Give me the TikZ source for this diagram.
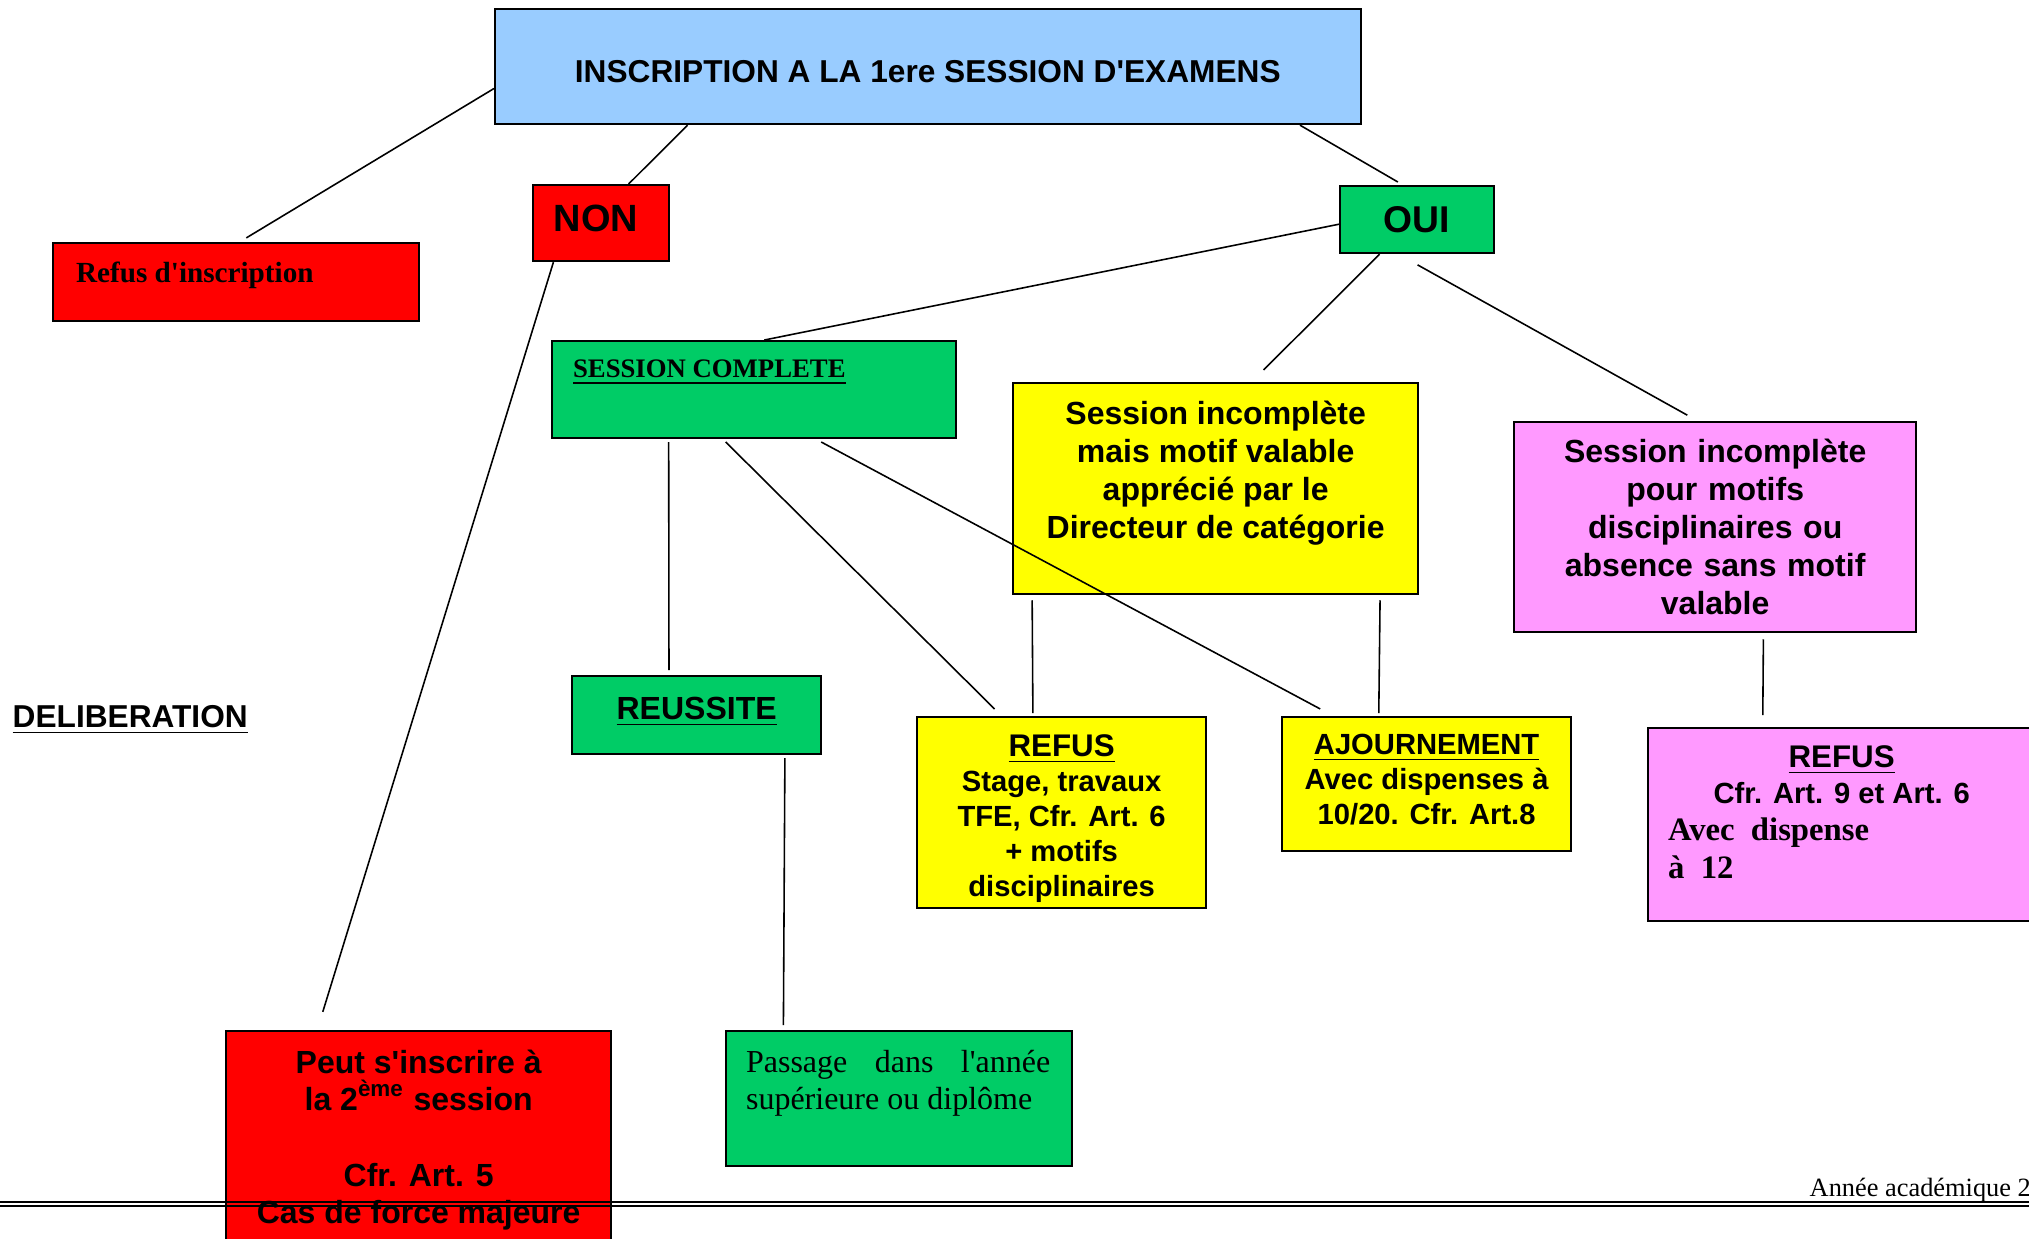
\documentclass[tikz,border=0pt]{standalone}
\usepackage{fontspec}
\newfontfamily\sansf{Liberation Sans}
\newfontfamily\seriff{Liberation Serif}
\usetikzlibrary{calc}
\definecolor{cblue}{HTML}{99CCFF}
\definecolor{cred}{HTML}{FF0000}
\definecolor{cgreen}{HTML}{00CC66}
\definecolor{cyellow}{HTML}{FFFF00}
\definecolor{cpink}{HTML}{FF99FF}
\newcommand{\sbf}[2]{\sansf\bfseries\fontsize{#1}{#2}\selectfont}
\newcommand{\rbf}[2]{\seriff\bfseries\fontsize{#1}{#2}\selectfont}
% text set at the top of a box of fixed size
\newcommand{\boxtop}[3]{\parbox[c][#1][t]{#2}{#3}}

\begin{document}
\begin{tikzpicture}[x=0.01cm, y=-0.01cm,
% common options for the boxes:
box/.style = {draw, line width=0.6pt, inner sep=0, anchor=north west},
bluebox/.style = {box, fill=cblue},
redbox/.style = {box, fill=cred},
greenbox/.style = {box, fill=cgreen},
yellowbox/.style = {box, fill=cyellow},
pinkbox/.style = {box, fill=cpink},
% common options for the connectors:
link/.style = {line width=0.45pt}]
\useasboundingbox (0,0) rectangle (2029,1238);
\clip (0,0) rectangle (2029,1238);
% first level
\node[bluebox, minimum width=8.65cm, text height=0.73cm, text depth=0.42cm, font=\sbf{9pt}{11pt}] (insc) at (494,8) {INSCRIPTION A LA 1ere SESSION D'EXAMENS};
\node[redbox, minimum width=1.36cm, text height=0.46cm, text depth=0.30cm, font=\sbf{10.8pt}{12pt}] (non) at (532,184) {NON\hspace{0.1cm}\mbox{}};
\node[greenbox, minimum width=1.54cm, minimum height=0.67cm, font=\sbf{10.6pt}{12pt}] (oui) at (1339,185) {OUI};
\node[redbox, font=\rbf{8.3pt}{10pt}] (refins) at (52,242)
  {\boxtop{0.78cm}{3.66cm}{\vspace{0.19cm}\hspace*{0.23cm}Refus d'inscription}};
% second level
\node[greenbox, font=\rbf{7.6pt}{9pt}] (sc) at (551,340)
  {\boxtop{0.97cm}{4.04cm}{\vspace{0.19cm}\hspace*{0.21cm}\underline{SESSION COMPLETE}}};
\node[yellowbox, font=\sbf{9.1pt}{0.38cm}] (inc1) at (1012,382)
  {\boxtop{2.11cm}{4.05cm}{\vspace{0.175cm}\centering Session incomplète\\ mais motif valable\\ apprécié par le\\ Directeur de catégorie}};
\node[pinkbox, text width=4.02cm, align=center, minimum height=2.10cm, font=\sbf{9.1pt}{0.38cm}] (inc2) at (1513,421)
  {Session incomplète\\ pour motifs\\ disciplinaires ou\\ absence sans motif\\ valable};
\node[anchor=base west, inner sep=0, font=\sbf{9pt}{11pt}] (delib) at (12,727) {\underline{DELIBERATION}};
% decisions
\node[greenbox, font=\sbf{9.1pt}{11pt}] (reus) at (571,675)
  {\boxtop{0.78cm}{2.49cm}{\vspace{0.21cm}\centering\underline{REUSSITE}}};
\node[yellowbox, font=\sbf{8.3pt}{0.35cm}] (refus2) at (916,716)
  {\boxtop{1.91cm}{2.89cm}{\vspace{0.175cm}\centering{\fontsize{8.9pt}{0.35cm}\selectfont\underline{REFUS}}\\ Stage, travaux\\ TFE, Cfr. Art. 6\\ + motifs\\ disciplinaires}};
\node[yellowbox, font=\sbf{8.3pt}{0.35cm}] (ajourn) at (1281,716)
  {\boxtop{1.34cm}{2.89cm}{\vspace{0.17cm}\centering\underline{AJOURNEMENT}\\ Avec dispenses à\\ 10/20. Cfr. Art.8}};
\node[pinkbox, font=\sbf{8.3pt}{0.36cm}] (refus3) at (1647,727)
  {\boxtop{1.93cm}{3.87cm}{\vspace{0.175cm}{\centering{\fontsize{8.9pt}{0.36cm}\selectfont\underline{REFUS}}\\ Cfr. Art. 9 et Art. 6\par}%
   {\rbf{9.3pt}{0.375cm}\hspace*{0.2cm}Avec\ \ dispense\\ \hspace*{0.2cm}à\ \ 12\par}}};
\node[redbox, font=\sbf{9.1pt}{0.37cm}] (peut) at (225,1030)
  {\boxtop{2.30cm}{3.85cm}{\vspace{0.185cm}\centering Peut s'inscrire à\\ la 2\textsuperscript{ème} session\\[0.39cm] Cfr. Art. 5\\ Cas de force majeure}};
\node[greenbox, font={\seriff\fontsize{9.1pt}{0.375cm}\selectfont}] (pass) at (725,1030)
  {\boxtop{1.35cm}{3.46cm}{\vspace{0.19cm}\leftskip=0.2cm\rightskip=0.22cm Passage\hfill dans\hfill l'année\\ supérieure ou diplôme}};
% connectors
\draw[link, shorten >=0.08cm] ($(insc.north west)!0.687!(insc.south west)$) -- ($(refins.north west)!0.509!(refins.north east)$);
\draw[link] ($(insc.south west)!0.223!(insc.south east)$) -- ($(non.north west)!0.699!(non.north east)$);
\draw[link, shorten >=0.06cm] ($(insc.south west)!0.929!(insc.south east)$) -- ($(oui.north west)!0.41!(oui.north east)$);
\draw[link] ($(oui.north west)!0.567!(oui.south west)$) -- ($(sc.north west)!0.525!(sc.north east)$);
\draw[link, shorten >=0.17cm] ($(oui.south west)!0.26!(oui.south east)$) -- ($(inc1.north west)!0.588!(inc1.north east)$);
\draw[link, shorten <=0.22cm, shorten >=0.12cm] ($(oui.south west)!0.38!(oui.south east)$) -- ($(inc2.north west)!0.457!(inc2.north east)$);
\draw[link, shorten >=0.19cm] ($(non.south west)!0.155!(non.south east)$) -- ($(peut.north west)!0.238!(peut.north east)$);
\draw[link, shorten <=0.03cm, shorten >=0.05cm] ($(sc.south west)!0.2896!(sc.south east)$) -- ($(reus.north west)!0.39!(reus.north east)$);
\draw[link, shorten <=0.04cm, shorten >=0.1cm] ($(sc.south west)!0.423!(sc.south east)$) -- ($(refus2.north west)!0.294!(refus2.north east)$);
\draw[link, shorten <=0.06cm, shorten >=0.15cm] ($(sc.south west)!0.652!(sc.south east)$) -- ($(ajourn.north west)!0.18!(ajourn.north east)$);
\draw[link, shorten <=0.05cm, shorten >=0.03cm] ($(inc1.south west)!0.0494!(inc1.south east)$) -- ($(refus2.north west)!0.4014!(refus2.north east)$);
\draw[link, shorten <=0.05cm, shorten >=0.03cm] ($(inc1.south west)!0.9037!(inc1.south east)$) -- ($(ajourn.north west)!0.3356!(ajourn.north east)$);
\draw[link, shorten <=0.06cm, shorten >=0.12cm] ($(inc2.south west)!0.6194!(inc2.south east)$) -- ($(refus3.north west)!0.2972!(refus3.north east)$);
\draw[link, shorten <=0.03cm, shorten >=0.05cm] ($(reus.south west)!0.8514!(reus.south east)$) -- ($(pass.north west)!0.1676!(pass.north east)$);
% footer
\draw[line width=0.8pt] (0,1202) -- (2029,1202);
\draw[line width=0.5pt] (0,1206) -- (2029,1206);
\node[anchor=base west, inner sep=0, font={\seriff\fontsize{7.5pt}{9pt}\selectfont}] (annee) at (1809,1196) {Année académique 2};
\end{tikzpicture}
\end{document}
